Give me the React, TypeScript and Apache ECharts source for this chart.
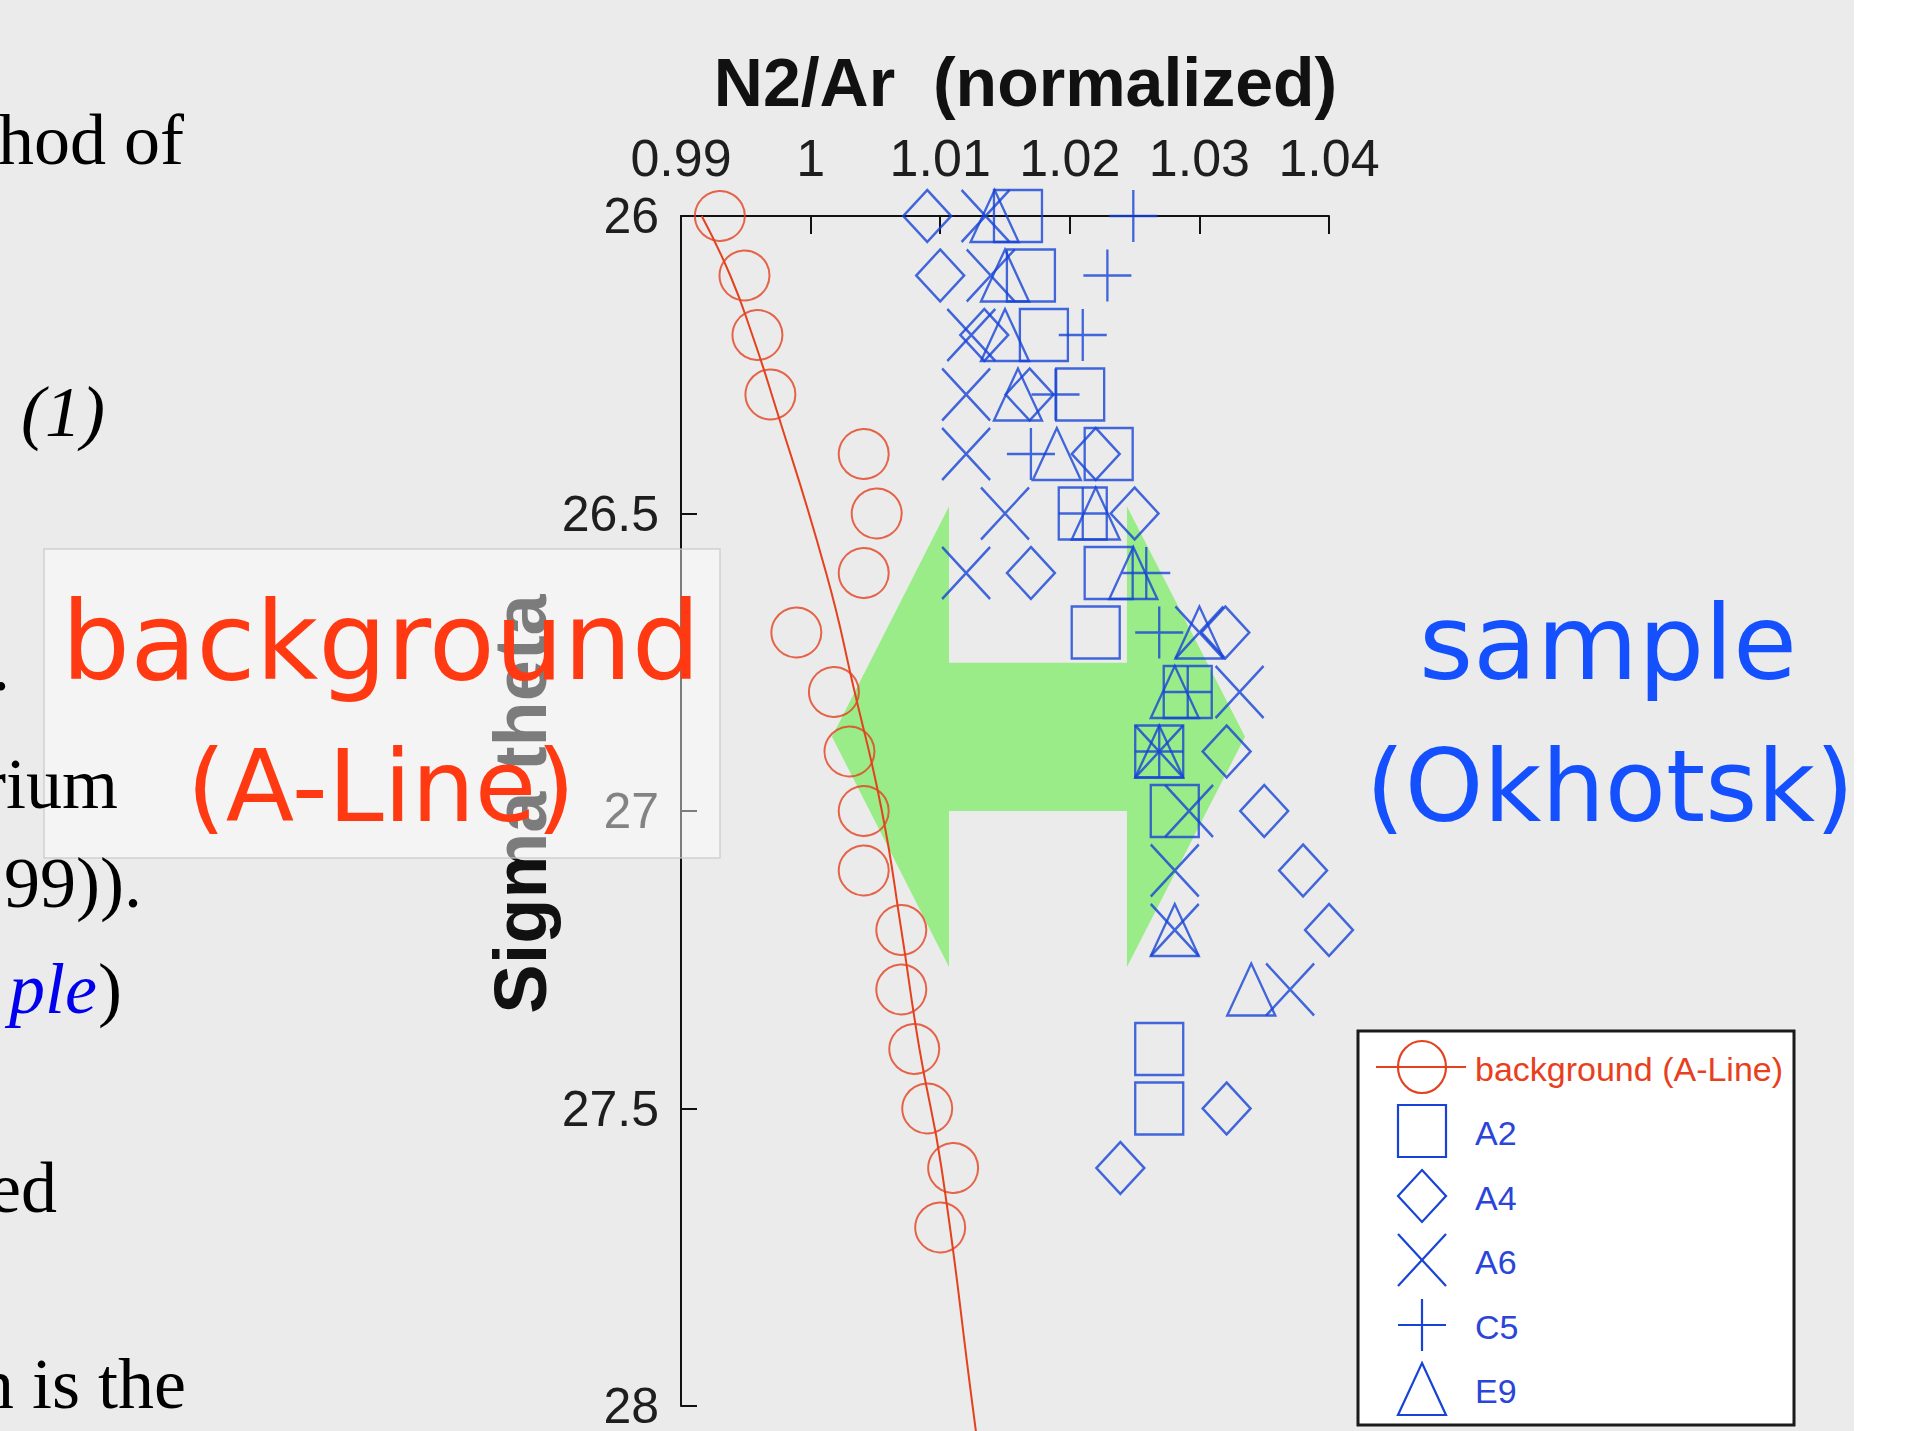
import React, { useEffect, useRef } from 'react';
import * as echarts from 'echarts';

const RED = '#e4411f';
const BLUE = '#1744d6';
const GREEN = '#99ec87';
const PAGE_BG = '#ebebeb';

// ---- axis ticks ----
const xTickValues = [0.99, 1.0, 1.01, 1.02, 1.03, 1.04];
const xTickLabels = ['0.99', '1', '1.01', '1.02', '1.03', '1.04'];
const yTickValues = [26, 26.5, 27, 27.5, 28];
const yTickLabels = ['26', '26.5', '27', '27.5', '28'];

// ---- background (A-Line) ----
const bgSigma = [26.0, 26.1, 26.2, 26.3, 26.4, 26.5, 26.6, 26.7, 26.8, 26.9, 27.0, 27.1, 27.2, 27.3, 27.4, 27.5, 27.6, 27.7];
const bgN2Ar = [0.993, 0.9949, 0.9959, 0.9969, 1.0041, 1.0051, 1.0041, 0.9989, 1.0018, 1.003, 1.0041, 1.0041, 1.007, 1.007, 1.008, 1.009, 1.011, 1.01];

// fitted background curve
const fitSigma = [26.0, 26.1, 26.2, 26.3, 26.6, 26.8, 27.0, 27.2, 27.4, 27.6, 28.0, 28.05];
const fitN2Ar = [0.9916, 0.9938, 0.9955, 0.997, 1.0012, 1.0034, 1.0055, 1.007, 1.0084, 1.0101, 1.0125, 1.0128];

// ---- samples (Okhotsk) ----
const a2Sigma = [26.0, 26.1, 26.2, 26.3, 26.4, 26.5, 26.6, 26.7, 26.8, 26.9, 27.0, 27.4, 27.5];
const a2N2Ar = [1.016, 1.017, 1.018, 1.0208, 1.023, 1.021, 1.023, 1.022, 1.0291, 1.0269, 1.0281, 1.0269, 1.0269];

const a4Sigma = [26.0, 26.1, 26.2, 26.3, 26.4, 26.5, 26.6, 26.7, 26.9, 27.0, 27.1, 27.2, 27.5, 27.6];
const a4N2Ar = [1.009, 1.01, 1.0134, 1.0169, 1.022, 1.025, 1.017, 1.032, 1.0321, 1.035, 1.038, 1.04, 1.0321, 1.0239];

const a6Sigma = [26.0, 26.1, 26.2, 26.3, 26.4, 26.5, 26.6, 26.7, 26.8, 26.9, 27.0, 27.1, 27.2, 27.3];
const a6N2Ar = [1.0135, 1.0139, 1.0124, 1.012, 1.012, 1.015, 1.012, 1.03, 1.0331, 1.0269, 1.0292, 1.0281, 1.0281, 1.037];

const c5Sigma = [26.0, 26.1, 26.2, 26.3, 26.4, 26.5, 26.6, 26.7, 26.8, 26.9];
const c5N2Ar = [1.0249, 1.0229, 1.021, 1.0189, 1.017, 1.021, 1.0259, 1.0269, 1.0291, 1.0269];

const e9Sigma = [26.0, 26.1, 26.2, 26.3, 26.4, 26.5, 26.6, 26.7, 26.8, 26.9, 27.2, 27.3];
const e9N2Ar = [1.0142, 1.015, 1.015, 1.016, 1.019, 1.022, 1.0249, 1.03, 1.0281, 1.0269, 1.0281, 1.034];

// ---- double arrow annotation (data coordinates) ----
const arrowN2Ar = [1.00165, 1.01068, 1.01068, 1.02441, 1.02441, 1.03352, 1.02441, 1.02441, 1.01068, 1.01068];
const arrowSigma = [26.875, 26.488, 26.751, 26.751, 26.488, 26.875, 27.262, 27.0, 27.0, 27.262];

const legendLabels = ['background (A-Line)', 'A2', 'A4', 'A6', 'C5', 'E9'];

const zip = (xs: number[], ys: number[]) => xs.map((x, i) => [x, ys[i]]);

const X_PATH = 'path://M0,0L48,52M48,0L0,52';
const PLUS_PATH = 'path://M24,0L24,52M0,26L48,26';

const hollow = (c: string, w = 2) => ({ color: 'rgba(0,0,0,0)', borderColor: c, borderWidth: w });

function labelFor(values: number[], labels: string[], v: number) {
  let best = 0;
  values.forEach((t, i) => {
    if (Math.abs(t - v) < Math.abs(values[best] - v)) best = i;
  });
  return labels[best];
}

function sampleSeries(name: string, symbol: string, xs: number[], ys: number[]) {
  return {
    type: 'scatter',
    name,
    data: zip(xs, ys),
    symbol,
    symbolSize: [48, 52],
    itemStyle: hollow(BLUE, 2.4),
    clip: false,
    z: 3,
  };
}

const option: any = {
  animation: false,
  backgroundColor: PAGE_BG,
  grid: { left: 681, top: 216, width: 648, height: 1204, containLabel: false },
  xAxis: {
    type: 'value',
    position: 'top',
    min: xTickValues[0],
    max: xTickValues[xTickValues.length - 1],
    interval: 0.01,
    name: 'N2/Ar  (normalized)',
    nameLocation: 'middle',
    nameGap: 100,
    nameTextStyle: {
      fontSize: 68,
      fontWeight: 'bold',
      fontFamily: 'Liberation Sans',
      color: '#111',
      padding: [0, 0, 0, 41],
    },
    axisLine: { show: true, onZero: false, lineStyle: { color: '#111', width: 2 } },
    axisTick: { show: true, inside: true, length: 18, lineStyle: { color: '#111', width: 2 } },
    axisLabel: {
      fontSize: 52,
      fontFamily: 'Liberation Sans',
      color: '#1e1e1e',
      margin: 32,
      showMinLabel: true,
      showMaxLabel: true,
      formatter: (v: number) => labelFor(xTickValues, xTickLabels, v),
    },
    splitLine: { show: false },
  },
  yAxis: {
    type: 'value',
    inverse: true,
    min: yTickValues[0],
    max: yTickValues[yTickValues.length - 1],
    interval: 0.5,
    name: 'Sigma theta',
    nameLocation: 'middle',
    nameRotate: 90,
    nameGap: 110,
    nameTextStyle: {
      fontSize: 74,
      fontWeight: 'bold',
      fontFamily: 'Liberation Sans',
      color: '#111',
      padding: [0, 0, 0, 14],
    },
    axisLine: { show: true, onZero: false, lineStyle: { color: '#111', width: 2 } },
    axisTick: { show: true, inside: true, length: 16, lineStyle: { color: '#111', width: 2 } },
    axisLabel: {
      fontSize: 50,
      fontFamily: 'Liberation Sans',
      color: '#1e1e1e',
      margin: 22,
      padding: [0, 0, 20, 0],
      showMinLabel: true,
      showMaxLabel: true,
      formatter: (v: number) => labelFor(yTickValues, yTickLabels, v),
    },
    splitLine: { show: false },
  },
  series: [
    {
      type: 'line',
      name: 'background fit',
      data: zip(fitN2Ar, fitSigma),
      smooth: true,
      symbol: 'none',
      lineStyle: { color: RED, width: 2 },
      clip: false,
      silent: true,
      z: 2,
    },
    {
      type: 'scatter',
      name: legendLabels[0],
      data: zip(bgN2Ar, bgSigma),
      symbol: 'circle',
      symbolSize: 50,
      itemStyle: hollow(RED, 2),
      clip: false,
      z: 3,
    },
    sampleSeries(legendLabels[1], 'rect', a2N2Ar, a2Sigma),
    sampleSeries(legendLabels[2], 'diamond', a4N2Ar, a4Sigma),
    sampleSeries(legendLabels[3], X_PATH, a6N2Ar, a6Sigma),
    sampleSeries(legendLabels[4], PLUS_PATH, c5N2Ar, c5Sigma),
    sampleSeries(legendLabels[5], 'triangle', e9N2Ar, e9Sigma),
  ],
};

const SERIF = 'Liberation Serif';
const SANS = 'DejaVu Sans';

function pageText(text: string, x: number, baseline: number, align: string, opts: any = {}) {
  const fs = opts.fontSize || 72;
  return {
    type: 'text',
    x,
    y: baseline - 0.34 * fs,
    z: 6,
    silent: true,
    style: {
      text,
      fontSize: fs,
      fontFamily: opts.fontFamily || SERIF,
      fontStyle: opts.fontStyle || 'normal',
      fontWeight: opts.fontWeight || 'normal',
      fill: opts.fill || '#000',
      align,
      verticalAlign: 'middle',
    },
  };
}

function buildGraphics(arrowPts: number[][]) {
  const els: any[] = [];
  // white strip at right edge of screenshot
  els.push({ type: 'rect', shape: { x: 1854, y: 0, width: 60, height: 1431 }, style: { fill: '#ffffff' }, z: 0, silent: true });
  // green double arrow
  els.push({ type: 'polygon', shape: { points: arrowPts }, style: { fill: GREEN }, z: 1, silent: true });
  // translucent label box
  els.push({
    type: 'rect',
    shape: { x: 44, y: 549, width: 676, height: 309 },
    style: { fill: 'rgba(255,255,255,0.45)', stroke: 'rgba(200,200,200,0.8)', lineWidth: 1.5 },
    z: 5,
    silent: true,
  });
  // big annotations
  els.push(pageText('background', 381, 678, 'center', { fontFamily: SANS, fontSize: 108, fill: '#ff3a12' }));
  els.push(pageText('(A-Line)', 381, 820, 'center', { fontFamily: SANS, fontSize: 100, fill: '#ff3a12' }));
  els.push(pageText('sample', 1608, 678, 'center', { fontFamily: SANS, fontSize: 104, fill: '#1550ff' }));
  els.push(pageText('(Okhotsk)', 1610, 820, 'center', { fontFamily: SANS, fontSize: 100, fill: '#1550ff' }));
  // cut-off document text at left
  els.push(pageText('hod of', 184, 164, 'right'));
  els.push(pageText('(1)', 21, 436, 'left', { fontStyle: 'italic' }));
  els.push(pageText('.', 10, 690, 'right'));
  els.push(pageText('rium', 118, 808, 'right'));
  els.push(pageText('99)).', 142, 907, 'right'));
  els.push(pageText('ple', 97, 1013, 'right', { fontStyle: 'italic', fill: '#0000ee' }));
  els.push(pageText(')', 98, 1013, 'left'));
  els.push(pageText('ed', 57, 1212, 'right'));
  els.push(pageText('n is the', 186, 1408, 'right'));

  // legend
  const LX = 1358, LY = 1031, LW = 436, LH = 394;
  const rows = [1067, 1131, 1196, 1260, 1325, 1389];
  const cx = 1422;
  const hw = 24, hh = 26;
  const lz = 7;
  els.push({ type: 'rect', shape: { x: LX, y: LY, width: LW, height: LH }, style: { fill: '#ffffff', stroke: '#1a1a1a', lineWidth: 3 }, z: lz, silent: true });
  const st = (c: string) => ({ fill: 'none', stroke: c, lineWidth: 2.2 });
  // background: line + circle
  els.push({ type: 'line', shape: { x1: 1376, y1: rows[0], x2: 1466, y2: rows[0] }, style: { stroke: RED, lineWidth: 2.2 }, z: lz + 1, silent: true });
  els.push({ type: 'ellipse', shape: { cx, cy: rows[0], rx: hw, ry: hh }, style: st(RED), z: lz + 1, silent: true });
  // A2 square
  els.push({ type: 'rect', shape: { x: cx - hw, y: rows[1] - hh, width: 2 * hw, height: 2 * hh }, style: st(BLUE), z: lz + 1, silent: true });
  // A4 diamond
  els.push({ type: 'polygon', shape: { points: [[cx, rows[2] - hh], [cx + hw, rows[2]], [cx, rows[2] + hh], [cx - hw, rows[2]]] }, style: st(BLUE), z: lz + 1, silent: true });
  // A6 cross
  els.push({ type: 'line', shape: { x1: cx - hw, y1: rows[3] - hh, x2: cx + hw, y2: rows[3] + hh }, style: st(BLUE), z: lz + 1, silent: true });
  els.push({ type: 'line', shape: { x1: cx + hw, y1: rows[3] - hh, x2: cx - hw, y2: rows[3] + hh }, style: st(BLUE), z: lz + 1, silent: true });
  // C5 plus
  els.push({ type: 'line', shape: { x1: cx, y1: rows[4] - hh, x2: cx, y2: rows[4] + hh }, style: st(BLUE), z: lz + 1, silent: true });
  els.push({ type: 'line', shape: { x1: cx - hw, y1: rows[4], x2: cx + hw, y2: rows[4] }, style: st(BLUE), z: lz + 1, silent: true });
  // E9 triangle
  els.push({ type: 'polygon', shape: { points: [[cx, rows[5] - hh], [cx + hw, rows[5] + hh], [cx - hw, rows[5] + hh]] }, style: st(BLUE), z: lz + 1, silent: true });
  legendLabels.forEach((lab, i) => {
    els.push({
      type: 'text',
      x: 1475,
      y: rows[i] + 2,
      z: lz + 1,
      silent: true,
      style: {
        text: lab,
        fontSize: 34,
        fontFamily: 'Liberation Sans',
        fill: i === 0 ? '#e8401c' : '#2b45d8',
        align: 'left',
        verticalAlign: 'middle',
      },
    });
  });
  return els;
}

export default function App() {
  const ref = useRef<HTMLDivElement>(null);
  useEffect(() => {
    const chart = echarts.init(ref.current as HTMLDivElement, null, { renderer: 'svg' });
    chart.setOption(option);
    const pts = arrowN2Ar.map((x, i) => chart.convertToPixel({ gridIndex: 0 }, [x, arrowSigma[i]]) as number[]);
    chart.setOption({ graphic: { elements: buildGraphics(pts) } });
    return () => chart.dispose();
  }, []);
  return <div ref={ref} style={{ position: 'absolute', left: 0, top: 0, width: 1906, height: 1431 }} />;
}
